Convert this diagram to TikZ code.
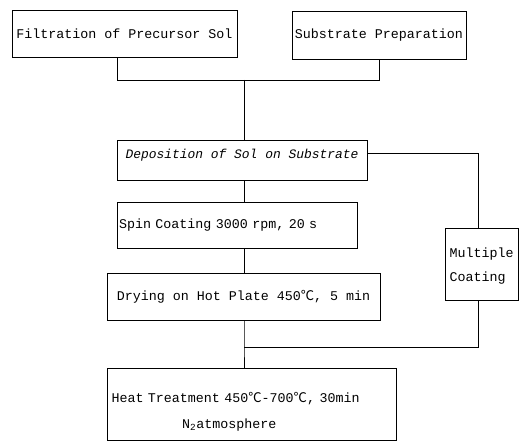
\documentclass[tikz,border=0pt]{standalone}
\usepackage{fontspec}
\setmainfont{Liberation Mono}
\newfontfamily\cjkfont{Noto Sans CJK SC}
\usetikzlibrary{calc}
\newcommand{\degCel}{{\cjkfont ℃}}
\begin{document}
\begin{tikzpicture}[x=0.75pt,y=-0.75pt,
  box/.style={draw, line width=0.6pt, rectangle, inner sep=1pt, font=\fontsize{10}{12}\selectfont},
  conn/.style={line width=0.6pt}]
\useasboundingbox (0,0) rectangle (528,442);
\node[box, minimum width=168.75pt, minimum height=35.25pt] (filt) at (124.5,33.5) {Filtration of Precursor Sol};
\node[box, minimum width=130.5pt, minimum height=36pt] (subs) at (379,35) {Substrate Preparation};
\node[box, minimum width=187.5pt, minimum height=30pt, font=\fontsize{9.7}{11}\selectfont\itshape] (dep) at (242,160) {\raisebox{10pt}{Deposition of Sol on Substrate}};
\node[box, minimum width=180pt, minimum height=34.5pt, text width=177pt, align=left] (spin) at (237,225) {Spin Coating 3000 rpm, 20 s};
\node[box, minimum width=204.75pt, minimum height=35.25pt] (dry) at (243.5,296.5) {Drying on Hot Plate 450\degCel, 5 min};
\node[box, minimum width=216.75pt, minimum height=54pt, text width=212pt, align=left, font=\fontsize{10}{19.5}\selectfont] (heat) at (251.5,404) {\rule{0pt}{20pt}\hspace*{1pt}Heat Treatment 450\degCel-700\degCel, 30min\\\hspace*{54pt}N\textsubscript{2}atmosphere};
\node[box, minimum width=54.75pt, minimum height=54pt, align=left, font=\fontsize{10}{18}\selectfont] (mc) at (481.5,264) {\rule{0pt}{11pt}Multiple\\Coating};
\coordinate (j1) at (244,80);
\coordinate (j2) at (244,347);
\coordinate (jr) at (478,153);
\draw[conn] ($(filt.south)+(-7.5,0)$) |- (j1);
\draw[conn] (subs.south) |- (j1);
\draw[conn] (j1) -- (j1 |- dep.north);
\draw[conn] (j1 |- dep.south) -- (j1 |- spin.north);
\draw[conn] (j1 |- spin.south) -- (j1 |- dry.north);
\draw[conn] (j1 |- dry.south) -- (j2) -- (j2 |- heat.north);
\draw[conn] (dep.east |- jr) -- (jr) -- (jr |- mc.north);
\draw[conn] (jr |- mc.south) |- (j2);
\end{tikzpicture}
\end{document}
